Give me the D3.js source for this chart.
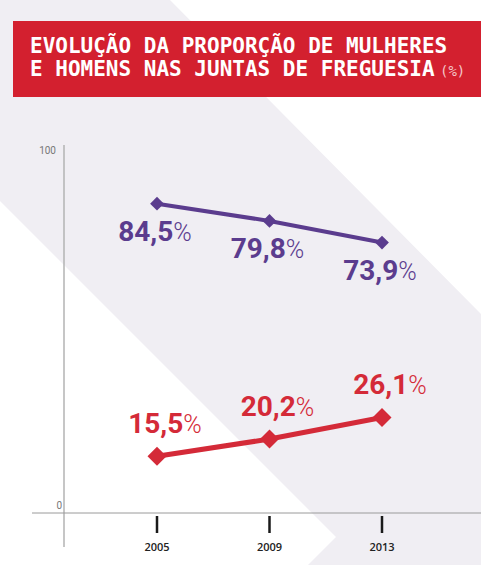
<!DOCTYPE html>
<html>
<head>
<meta charset="utf-8">
<script src="https://cdn.jsdelivr.net/npm/d3@7"></script>
<style>
  body { margin: 0; background: #fff; }
  svg { display: block; }
</style>
</head>
<body>
<div class="chart"></div>
<script>
const w = 481;
const h = 565;

const years = [2005, 2009, 2013];
const homens = [84.5, 79.8, 73.9];
const mulheres = [15.5, 20.2, 26.1];
const yTicks = [0, 100];
const titleLines = ["EVOLUÇÃO DA PROPORÇÃO DE MULHERES", "E HOMENS NAS JUNTAS DE FREGUESIA"];
const titleUnit = "(%)";

const purple = "#5b3c8e";
const red = "#d42a38";

const svg = d3.select(".chart")
  .append("svg")
  .attr("width", w)
  .attr("height", h);

// background stripes
svg.append("rect").attr("width", w).attr("height", h).attr("fill", "#fff");
svg.append("path")
  .attr("d", "M0,0 L170,0 L481,314 L481,565 L308,565 L336,537 L0,201 Z")
  .attr("fill", "#f0eef3");

// title banner
svg.append("rect")
  .attr("x", 13).attr("y", 21)
  .attr("width", w - 13).attr("height", 76)
  .attr("fill", "#d3202f");

const title = svg.append("g")
  .attr("font-family", "'DejaVu Sans Mono', monospace")
  .attr("font-weight", "bold")
  .attr("font-size", 21)
  .attr("fill", "#fff");

title.selectAll("text")
  .data(titleLines)
  .enter().append("text")
  .attr("x", 30)
  .attr("y", (d, i) => 53 + i * 23)
  .text(d => d);

title.append("text")
  .attr("x", 440).attr("y", 76)
  .attr("font-size", 14)
  .attr("font-weight", "normal")
  .attr("fill", "#f4c4c8")
  .text(titleUnit);

// scales
const x = d3.scalePoint()
  .domain(years)
  .range([157, 382]);

const y = d3.scaleLinear()
  .domain([0, 100])
  .range([513, 147]);

// axes
svg.append("line")
  .attr("x1", 64).attr("x2", 64)
  .attr("y1", 145).attr("y2", 547)
  .attr("stroke", "#b3b3b3")
  .attr("stroke-width", 1.5);

svg.append("line")
  .attr("x1", 32).attr("x2", w)
  .attr("y1", y(0)).attr("y2", y(0))
  .attr("stroke", "#9a9a9a")
  .attr("stroke-width", 1);

svg.selectAll(null) // y tick labels
  .data(yTicks)
  .enter().append("text")
  .attr("x", d => d === 0 ? 62 : 56)
  .attr("y", d => d === 0 ? y(d) - 4 : y(d) + 7)
  .attr("text-anchor", "end")
  .attr("font-family", "Roboto, sans-serif")
  .attr("font-size", 10)
  .attr("fill", "#777")
  .text(d => d);

svg.selectAll(null) // x ticks
  .data(years)
  .enter().append("line")
  .attr("x1", d => x(d)).attr("x2", d => x(d))
  .attr("y1", y(0) + 3).attr("y2", y(0) + 20)
  .attr("stroke", "#1a1a1a")
  .attr("stroke-width", 2.5);

svg.selectAll(null) // x tick labels
  .data(years)
  .enter().append("text")
  .attr("x", d => x(d))
  .attr("y", 551)
  .attr("text-anchor", "middle")
  .attr("font-family", "'Open Sans', sans-serif")
  .attr("font-size", 11)
  .attr("font-weight", 600)
  .attr("fill", "#222")
  .text(d => d);

// series
const series = [
  { name: "Homens", values: homens, color: purple, width: 4, size: 95, dx: -2, dy: 37 },
  { name: "Mulheres", values: mulheres, color: red, width: 5, size: 180, dx: 8, dy: -23 }
];

const line = d3.line()
  .x((d, i) => x(years[i]))
  .y(d => y(d));

const diamond = d3.symbol().type(d3.symbolSquare);

series.forEach(s => {
  const g = svg.append("g");

  g.append("path")
    .attr("d", line(s.values))
    .attr("fill", "none")
    .attr("stroke", s.color)
    .attr("stroke-width", s.width);

  g.selectAll("path.marker")
    .data(s.values)
    .enter().append("path")
    .attr("class", "marker")
    .attr("d", diamond.size(s.size)())
    .attr("transform", (d, i) => "translate(" + x(years[i]) + "," + y(d) + ") rotate(45)")
    .attr("fill", s.color);

  const lbl = g.selectAll("text")
    .data(s.values)
    .enter().append("text")
    .attr("x", (d, i) => x(years[i]) + s.dx)
    .attr("y", d => y(d) + s.dy)
    .attr("text-anchor", "middle")
    .attr("font-family", "Roboto, sans-serif")
    .attr("font-weight", "bold")
    .attr("font-size", 28)
    .attr("fill", s.color);

  lbl.append("tspan")
    .text(d => d.toFixed(1).replace(".", ","));
  lbl.append("tspan")
    .attr("font-weight", 300)
    .attr("font-size", 25)
    .text("%");
});
</script>
</body>
</html>
